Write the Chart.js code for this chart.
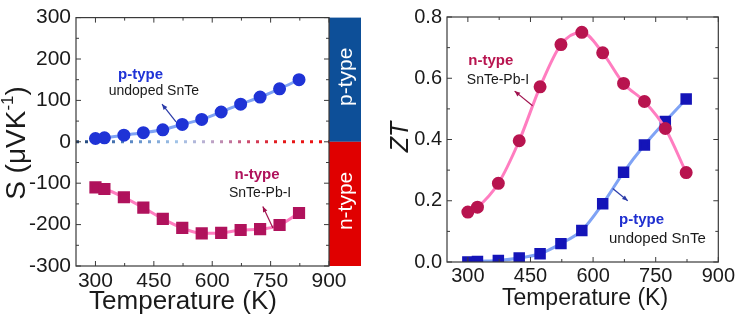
<!DOCTYPE html>
<html>
<head>
<meta charset="utf-8">
<script src="https://cdn.jsdelivr.net/npm/chart.js@4.4.0/dist/chart.umd.min.js"></script>
<style>
  body { margin: 0; background: #fff; }
  #wrap { position: relative; width: 737px; height: 321px; }
  canvas { position: absolute; top: 0; }
</style>
</head>
<body>
<div id="wrap">
  <canvas id="seebeck" width="370" height="321" style="left:0"></canvas>
  <canvas id="zt" width="367" height="321" style="left:370px"></canvas>
</div>
<script>
// temperatures (K)
const temps = [300, 323, 373, 423, 473, 523, 573, 623, 673, 723, 773, 823];
// Seebeck coefficient (uV/K)
const seebeckP = [8, 9.5, 16, 22, 29, 42, 54, 72, 91, 108, 128, 150];
const seebeckN = [-110, -114, -134, -159, -186, -208, -221, -220, -213, -211, -201, -172];
// figure of merit
const ztN = [0.163, 0.179, 0.257, 0.396, 0.572, 0.71, 0.75, 0.683, 0.583, 0.524, 0.436, 0.292];
const ztP = [0.0, 0.002, 0.005, 0.013, 0.027, 0.06, 0.103, 0.19, 0.293, 0.382, 0.459, 0.532];

const xTicks = [300, 450, 600, 750, 900];
const xMinor = [375, 525, 675, 825];
const sTicks = [-300, -200, -100, 0, 100, 200, 300];
const sMinor = [-250, -150, -50, 50, 150, 250];
const ztTicks = [0, 0.2, 0.4, 0.6, 0.8];
const ztMinor = [0.1, 0.3, 0.5, 0.7];

const FONT = 'Arial, "Liberation Sans", sans-serif';
const BLUE_PT = '#1f33d6', BLUE_LINE = '#7fa3f5';
const RED_PT = '#b8144f', RED_SQ = '#b0125c', PINK_LINE = '#ff7dc0';

function pts(ys) { return temps.map((t, i) => ({x: t, y: ys[i]})); }

// frame, inward ticks, titles, labels, side bar
const decor = {
  id: 'decor',
  afterDatasetsDraw(chart, args, o) {
    const {ctx, chartArea: a, scales: {x, y}} = chart;
    ctx.save();
    // side bar (left chart only)
    if (o.sideBar) {
      const z = y.getPixelForValue(0);
      ctx.fillStyle = '#0d4f98';
      ctx.fillRect(a.right, a.top, 32, z - a.top);
      ctx.fillStyle = '#e00000';
      ctx.fillRect(a.right, z, 32, a.bottom - z);
      ctx.fillStyle = '#fff';
      ctx.font = '21px ' + FONT;
      ctx.textAlign = 'center';
      ctx.textBaseline = 'middle';
      [['p-type', (a.top + z) / 2 - 3], ['n-type', (z + a.bottom) / 2 - 3]].forEach(([t, cy]) => {
        ctx.save();
        ctx.translate(a.right + 17, cy);
        ctx.rotate(-Math.PI / 2);
        ctx.fillText(t, 0, 0);
        ctx.restore();
      });
    }
    // frame
    ctx.strokeStyle = '#3a3a3a';
    ctx.lineWidth = 1.2;
    ctx.strokeRect(a.left, a.top, a.right - a.left, a.bottom - a.top);
    ctx.lineWidth = 1;
    const tx = (v, len) => {
      const px = x.getPixelForValue(v);
      ctx.beginPath();
      ctx.moveTo(px, a.bottom); ctx.lineTo(px, a.bottom - len);
      ctx.moveTo(px, a.top); ctx.lineTo(px, a.top + len);
      ctx.stroke();
    };
    const ty = (v, len) => {
      const py = y.getPixelForValue(v);
      ctx.beginPath();
      ctx.moveTo(a.left, py); ctx.lineTo(a.left + len, py);
      ctx.moveTo(a.right, py); ctx.lineTo(a.right - len, py);
      ctx.stroke();
    };
    xTicks.forEach(v => tx(v, 5));
    o.xMinor.forEach(v => tx(v, 3));
    o.yTicks.forEach(v => ty(v, 5));
    o.yMinor.forEach(v => ty(v, 3));

    // annotations
    ctx.textAlign = 'center';
    ctx.textBaseline = 'middle';
    o.notes.forEach(n => {
      ctx.font = (n.bold ? 'bold ' : '') + n.size + 'px ' + FONT;
      ctx.fillStyle = n.color;
      ctx.fillText(n.text, x.getPixelForValue(n.t), y.getPixelForValue(n.v));
    });
    o.arrows.forEach(r => {
      const x1 = x.getPixelForValue(r.from[0]), y1 = y.getPixelForValue(r.from[1]);
      const x2 = x.getPixelForValue(r.to[0]), y2 = y.getPixelForValue(r.to[1]);
      const ang = Math.atan2(y2 - y1, x2 - x1);
      ctx.strokeStyle = r.color;
      ctx.fillStyle = r.color;
      ctx.lineWidth = 1.2;
      ctx.beginPath();
      ctx.moveTo(x1, y1); ctx.lineTo(x2, y2);
      ctx.stroke();
      ctx.beginPath();
      ctx.moveTo(x2, y2);
      ctx.lineTo(x2 - 6 * Math.cos(ang - 0.4), y2 - 6 * Math.sin(ang - 0.4));
      ctx.lineTo(x2 - 6 * Math.cos(ang + 0.4), y2 - 6 * Math.sin(ang + 0.4));
      ctx.closePath();
      ctx.fill();
    });

    // axis titles
    ctx.fillStyle = '#1a1a1a';
    ctx.textBaseline = 'alphabetic';
    ctx.font = o.xTitle.size + 'px ' + FONT;
    ctx.fillText('Temperature (K)', o.xTitle.cx, o.xTitle.base);
    ctx.save();
    ctx.translate(o.yTitle.cx, o.yTitle.cy);
    ctx.rotate(-Math.PI / 2);
    ctx.textAlign = 'left';
    ctx.textBaseline = 'middle';
    const big = o.yTitle.size + 'px ' + FONT;
    const small = Math.round(o.yTitle.size * 0.62) + 'px ' + FONT;
    const parts = o.yTitle.parts;
    let w = 0;
    parts.forEach(p => { ctx.font = (p.it ? 'italic ' : '') + (p.sup ? small : big); w += ctx.measureText(p.s).width; });
    let cx = -w / 2;
    parts.forEach(p => {
      ctx.font = (p.it ? 'italic ' : '') + (p.sup ? small : big);
      ctx.fillText(p.s, cx, p.sup ? -o.yTitle.size * 0.32 : 0);
      cx += ctx.measureText(p.s).width;
    });
    ctx.restore();
    ctx.restore();
  }
};

function axes(yMin, yMax, yTicks, fmt, xH, yW, tickSize, xPad) {
  const font = {size: tickSize, family: FONT};
  return {
    x: {
      type: 'linear', min: 250, max: 900,
      grid: {display: false, drawTicks: false}, border: {display: false},
      ticks: {font, color: '#1a1a1a', padding: xPad, maxRotation: 0, callback: v => String(v)},
      afterBuildTicks: s => { s.ticks = xTicks.map(v => ({value: v})); },
      afterFit: s => { s.height = xH; }
    },
    y: {
      type: 'linear', min: yMin, max: yMax,
      grid: {display: false, drawTicks: false}, border: {display: false},
      ticks: {font, color: '#1a1a1a', padding: 5, callback: fmt},
      afterBuildTicks: s => { s.ticks = yTicks.map(v => ({value: v})); },
      afterFit: s => { s.width = yW; }
    }
  };
}

const zeroGradient = ctx => {
  const a = ctx.chart.chartArea;
  if (!a) return '#e01010';
  const g = ctx.chart.ctx.createLinearGradient(a.left, 0, a.right, 0);
  g.addColorStop(0, '#1c3f70');
  g.addColorStop(0.19, '#5080c0');
  g.addColorStop(0.4, '#a2c4e8');
  g.addColorStop(0.52, '#bcaed0');
  g.addColorStop(0.62, '#c07098');
  g.addColorStop(0.7, '#d04060');
  g.addColorStop(0.8, '#e41818');
  g.addColorStop(1, '#ee1010');
  return g;
};

new Chart(document.getElementById('seebeck'), {
  type: 'line',
  data: {
    datasets: [
      {data: pts(seebeckP), borderColor: BLUE_LINE, borderWidth: 3, cubicInterpolationMode: 'monotone',
       pointStyle: 'circle', pointRadius: 5, pointBackgroundColor: BLUE_PT, pointBorderColor: BLUE_PT},
      {data: pts(seebeckN), borderColor: PINK_LINE, borderWidth: 3, cubicInterpolationMode: 'monotone',
       pointStyle: 'rect', pointRadius: 6.5, pointBackgroundColor: RED_SQ, pointBorderColor: RED_SQ},
      {data: [{x: 250, y: 0}, {x: 900, y: 0}], borderColor: zeroGradient, borderWidth: 3,
       borderDash: [3, 6], pointRadius: 0}
    ]
  },
  options: {
    responsive: false, animation: false, devicePixelRatio: 1,
    layout: {padding: {top: 13, right: 41, left: 0, bottom: 0}},
    scales: axes(-300, 300, sTicks, v => String(v), 55, 76, 21, 3),
    plugins: {
      legend: {display: false}, tooltip: {enabled: false},
      decor: {
        sideBar: true, xMinor, yTicks: sTicks, yMinor: sMinor,
        xTitle: {size: 26, cx: 183, base: 309},
        yTitle: {size: 28, cx: 17, cy: 143, parts: [{s: 'S (μVK'}, {s: '-1', sup: true}, {s: ')'}]},
        notes: [
          {text: 'p-type', t: 416, v: 162, bold: true, size: 15, color: BLUE_PT},
          {text: 'undoped SnTe', t: 450, v: 123, size: 14, color: '#1a1a1a'},
          {text: 'n-type', t: 715, v: -80, bold: true, size: 15, color: RED_SQ},
          {text: 'SnTe-Pb-I', t: 723, v: -125, size: 14, color: '#1a1a1a'}
        ],
        arrows: [
          {from: [507, 48], to: [471, 91], color: '#2a3aa8'},
          {from: [756, -208], to: [730, -156], color: '#a0124e'}
        ]
      }
    }
  },
  plugins: [decor]
});

new Chart(document.getElementById('zt'), {
  type: 'line',
  data: {
    datasets: [
      {data: pts(ztN), borderColor: PINK_LINE, borderWidth: 3, cubicInterpolationMode: 'monotone',
       pointStyle: 'circle', pointRadius: 5, pointBackgroundColor: RED_PT, pointBorderColor: RED_PT},
      {data: pts(ztP), borderColor: BLUE_LINE, borderWidth: 3, cubicInterpolationMode: 'monotone',
       pointStyle: 'rect', pointRadius: 6, pointBackgroundColor: '#1414b8', pointBorderColor: '#1414b8'}
    ]
  },
  options: {
    responsive: false, animation: false, devicePixelRatio: 1,
    layout: {padding: {top: 16, right: 18, left: 0, bottom: 0}},
    scales: axes(0, 0.8, ztTicks, v => v.toFixed(1), 59, 77, 20, 2),
    plugins: {
      legend: {display: false}, tooltip: {enabled: false},
      decor: {
        sideBar: false, xMinor, yTicks: ztTicks, yMinor: ztMinor,
        xTitle: {size: 23, cx: 215, base: 305},
        yTitle: {size: 25, cx: 31, cy: 137, parts: [{s: 'ZT', it: true}]},
        notes: [
          {text: 'n-type', t: 355, v: 0.656, bold: true, size: 15, color: RED_PT},
          {text: 'SnTe-Pb-I', t: 372, v: 0.594, size: 14, color: '#1a1a1a'},
          {text: 'p-type', t: 716, v: 0.136, bold: true, size: 15, color: '#1f2fd0'},
          {text: 'undoped SnTe', t: 754, v: 0.074, size: 15, color: '#1a1a1a'}
        ],
        arrows: [
          {from: [455, 0.51], to: [412, 0.558], color: '#a0124e'},
          {from: [647, 0.24], to: [683, 0.2], color: '#2a3aa8'}
        ]
      }
    }
  },
  plugins: [decor]
});
</script>
</body>
</html>
